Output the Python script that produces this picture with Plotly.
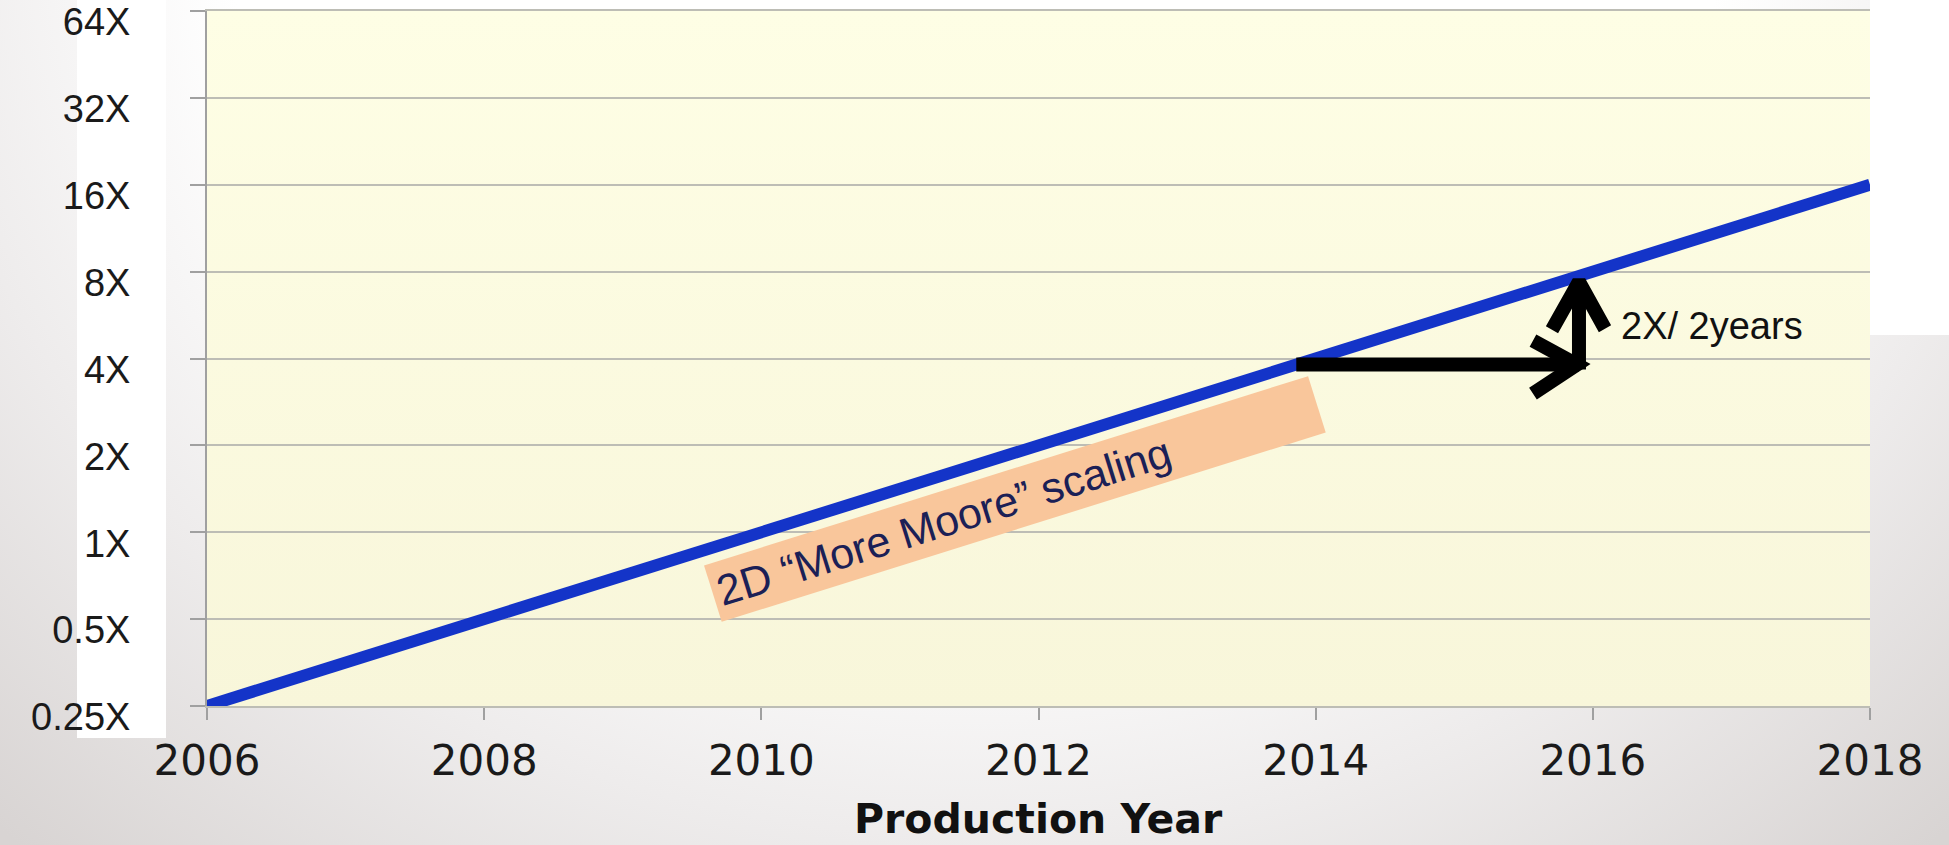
import base64
import math
import plotly.graph_objects as go

# ---------------- data ----------------
years = [2006, 2008, 2010, 2012, 2014, 2016, 2018]
scaling = [0.25, 0.5, 1, 2, 4, 8, 16]

x_tickvals = [2006, 2008, 2010, 2012, 2014, 2016, 2018]
y_tickvals = [0.25, 0.5, 1, 2, 4, 8, 16, 32, 64]
y_ticktext = ["0.25X", "0.5X", "1X", "2X", "4X", "8X", "16X", "32X", "64X"]
x_title = "Production Year"

label_text = "2D \u201cMore Moore\u201d scaling"
label_pos = (2011.83, 1.30)           # (year, scaling) of the label centre
rate_text = "2X/ 2years"
rate_pos = (2016.19, 5.2)

arrow_from = (2013.86, 3.81)
arrow_corner = (2015.9, 3.81)
arrow_to = (2015.9, 7.38)

# ---------------- layout geometry ----------------
W, H = 1949, 845
L, R, T, B = 207, 79, 11, 139
pw, ph = W - L - R, H - T - B
x_range = (2006, 2018)
y_range = (0.25, 64)
px_year = pw / (x_range[1] - x_range[0])
px_oct = ph / math.log2(y_range[1] / y_range[0])


def off(pt, dx_px, dy_px):
    """offset a (year, value) point by pixels (dy up positive)"""
    return (pt[0] + dx_px / px_year, pt[1] * 2 ** (dy_px / px_oct))


# arrow path (horizontal shaft + head, vertical shaft + head)
h_arm1 = off(arrow_corner, -46, 24)
h_arm2 = off(arrow_corner, -46, -29)
v_base = off(arrow_corner, 0, -5)
v_arm1 = off(arrow_to, -27, -48)
v_arm2 = off(arrow_to, 26, -47)
ax_pts = [arrow_from, arrow_corner, None, h_arm1, off(arrow_corner, -2, 0), h_arm2,
          None, v_base, arrow_to, None, v_arm1, arrow_to, v_arm2]
arrow_x = [p[0] if p else None for p in ax_pts]
arrow_y = [p[1] if p else None for p in ax_pts]

# ---------------- background (slide gradient) ----------------
svg = f'''<svg xmlns="http://www.w3.org/2000/svg" width="{W}" height="{H}" viewBox="0 0 {W} {H}" preserveAspectRatio="none">
<defs>
<radialGradient id="bg" gradientUnits="userSpaceOnUse" cx="975" cy="-100" r="1437" fx="975" fy="-100"
 gradientTransform="translate(975 -100) scale(1 0.88) translate(-975 100)">
<stop offset="0" stop-color="#ffffff"/>
<stop offset="0.52" stop-color="#ffffff"/>
<stop offset="0.74" stop-color="#eeecec"/>
<stop offset="1" stop-color="#d8d4d3"/>
</radialGradient>
<linearGradient id="py" x1="0" y1="0" x2="0" y2="1">
<stop offset="0" stop-color="#fefee5"/>
<stop offset="1" stop-color="#f8f6da"/>
</linearGradient>
</defs>
<rect x="0" y="0" width="{W}" height="{H}" fill="url(#bg)"/>
<rect x="77" y="0" width="89" height="738" fill="#ffffff"/>
<rect x="{W - R}" y="0" width="{R}" height="335" fill="#ffffff"/>
<rect x="{L}" y="{T}" width="{pw}" height="{ph}" fill="url(#py)"/>
</svg>'''
svg_src = "data:image/svg+xml;base64," + base64.b64encode(svg.encode()).decode()

# ---------------- figure ----------------
fig = go.Figure()
fig.add_trace(go.Scatter(
    x=years, y=scaling, mode="lines",
    line=dict(color="#1434c8", width=12),
    hoverinfo="skip", showlegend=False,
))
fig.add_trace(go.Scatter(
    x=arrow_x, y=arrow_y, mode="lines",
    line=dict(color="#000000", width=14),
    hoverinfo="skip", showlegend=False, connectgaps=False,
))

angle = math.degrees(math.atan(px_oct / (2 * px_year)))

fig.add_annotation(
    text=label_text, x=label_pos[0], y=math.log10(label_pos[1]),
    xref="x", yref="y", showarrow=False, textangle=-angle,
    xanchor="center", yanchor="middle",
    font=dict(family="Liberation Sans, Arial", size=43, color="#1b2056"),
    bgcolor="#f9c69b", width=622, height=48, borderpad=5, align="left",
)
fig.add_annotation(
    text=rate_text, x=rate_pos[0], y=math.log10(rate_pos[1]),
    xref="x", yref="y", showarrow=False, xanchor="left", yanchor="middle",
    font=dict(family="Liberation Sans, Arial", size=38, color="#111111"),
)
# x-axis title (placed as paper annotation so margins stay fixed)
fig.add_annotation(
    text=x_title, x=0.5, y=-(819 - (T + ph)) / ph,
    xref="paper", yref="paper", showarrow=False,
    xanchor="center", yanchor="middle",
    font=dict(family="DejaVu Sans", size=41, color="#111111", weight=700),
)

fig.update_layout(
    width=W, height=H, autosize=False,
    margin=dict(l=L, r=R, t=T, b=B, pad=0, autoexpand=False),
    paper_bgcolor="#ffffff",
    plot_bgcolor="rgba(0,0,0,0)",
    showlegend=False,
    hovermode=False,
    images=[dict(source=svg_src, xref="paper", yref="paper",
                 x=-L / pw, y=1 + T / ph, sizex=W / pw, sizey=H / ph,
                 xanchor="left", yanchor="top", sizing="stretch", layer="below")],
    xaxis=dict(
        range=list(x_range), tickvals=x_tickvals, automargin=False,
        ticks="outside", ticklen=12, tickwidth=2, tickcolor="#a0a0a0",
        showgrid=False, zeroline=False,
        showline=True, linecolor="#bdbdb5", linewidth=2, mirror=True,
        tickfont=dict(family="DejaVu Sans", size=42, color="#1a1a1a"),
        ticklabelstandoff=5, ticklabeloverflow="allow",
    ),
    yaxis=dict(
        type="log", range=[math.log10(y_range[0]), math.log10(y_range[1])],
        tickvals=y_tickvals, ticktext=y_ticktext, automargin=False,
        ticks="outside", ticklen=15, tickwidth=2, tickcolor="#a0a0a0",
        showgrid=True, gridcolor="#bdbdb5", gridwidth=2, zeroline=False,
        showline=True, linecolor="#a0a0a0", linewidth=2,
        tickfont=dict(family="Liberation Sans, Arial", size=38, color="#1a1a1a"),
        ticklabelstandoff=52, ticklabelshift=11, ticklabeloverflow="allow",
    ),
)

fig.write_html("out.html", config={"displayModeBar": False})
